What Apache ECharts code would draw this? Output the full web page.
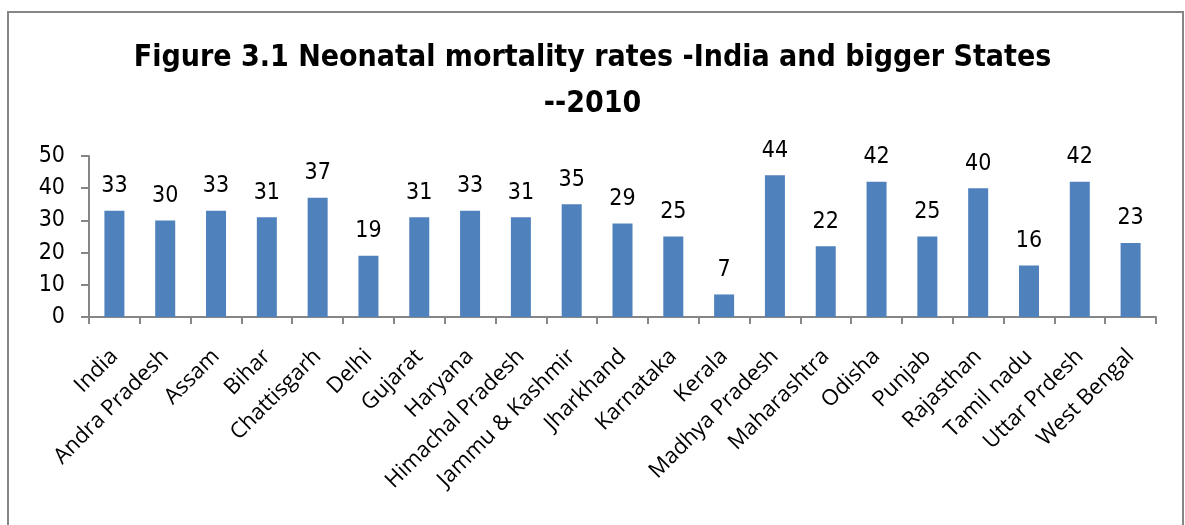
<!DOCTYPE html>
<html>
<head>
<meta charset="utf-8">
<script src="https://cdn.jsdelivr.net/npm/echarts@6/dist/echarts.min.js"></script>
<style>
  html, body { margin: 0; padding: 0; background: #fff; }
  #chart { width: 1185px; height: 525px; }
</style>
</head>
<body>
<div id="chart"></div>
<script>
// neonatal mortality rate per 1000 live births, 2010
var states = ['India', 'Andra Pradesh', 'Assam', 'Bihar', 'Chattisgarh', 'Delhi', 'Gujarat',
  'Haryana', 'Himachal Pradesh', 'Jammu & Kashmir', 'Jharkhand', 'Karnataka', 'Kerala',
  'Madhya Pradesh', 'Maharashtra', 'Odisha', 'Punjab', 'Rajasthan', 'Tamil nadu',
  'Uttar Prdesh', 'West Bengal'];
var nmr = [33, 30, 33, 31, 37, 19, 31, 33, 31, 35, 29, 25, 7, 44, 22, 42, 25, 40, 16, 42, 23];
var yTicks = [0, 10, 20, 30, 40, 50];

var narrow = '"Liberation Sans Narrow", "DejaVu Sans Condensed", sans-serif';
var chart = echarts.init(document.getElementById('chart'));
chart.setOption({
  animation: false,
  title: {
    text: 'Figure 3.1 Neonatal mortality rates -India and bigger States\n--2010',
    left: 'center',
    top: 30,
    textStyle: {
      fontFamily: narrow,
      fontSize: 30,
      fontWeight: 'bold',
      color: '#000',
      lineHeight: 46
    }
  },
  graphic: [{
    type: 'rect',
    shape: { x: 8, y: 12, width: 1175, height: 540 },
    style: { fill: 'none', stroke: '#868686', lineWidth: 2 }
  }],
  grid: { left: 89, right: 29, top: 156, bottom: 208 },
  xAxis: {
    type: 'category',
    data: states,
    axisLine: { lineStyle: { color: '#868686', width: 2 } },
    axisTick: { show: true, length: 7, lineStyle: { color: '#868686', width: 2 } },
    axisLabel: {
      rotate: 45,
      interval: 0,
      margin: 36,
      fontFamily: '"Open Sans", "Noto Sans", sans-serif',
      fontSize: 22,
      color: '#000'
    }
  },
  yAxis: {
    type: 'value',
    min: yTicks[0],
    max: yTicks[yTicks.length - 1],
    interval: 10,
    splitLine: { show: false },
    axisLine: { show: true, lineStyle: { color: '#868686', width: 2 } },
    axisTick: { show: true, length: 8, lineStyle: { color: '#868686', width: 2 } },
    axisLabel: {
      margin: 24,
      fontFamily: narrow,
      fontSize: 23,
      color: '#000'
    }
  },
  series: [{
    type: 'bar',
    data: nmr,
    barWidth: 20,
    itemStyle: { color: '#4F81BD' },
    label: {
      show: true,
      position: 'top',
      distance: 13,
      fontFamily: narrow,
      fontSize: 23,
      color: '#000'
    }
  }]
});
</script>
</body>
</html>
